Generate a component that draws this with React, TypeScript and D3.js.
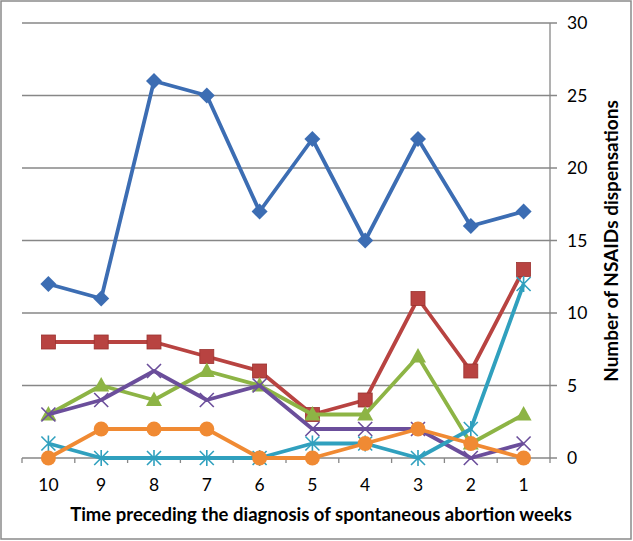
import React from "react";
import * as d3 from "d3";

const weeks = ["10", "9", "8", "7", "6", "5", "4", "3", "2", "1"];
const yTicks = [0, 5, 10, 15, 20, 25, 30];
const seriesBlue = [12, 11, 26, 25, 17, 22, 15, 22, 16, 17];
const seriesRed = [8, 8, 8, 7, 6, 3, 4, 11, 6, 13];
const seriesGreen = [3, 5, 4, 6, 5, 3, 3, 7, 1, 3];
const seriesPurple = [3, 4, 6, 4, 5, 2, 2, 2, 0, 1];
const seriesCyan = [1, 0, 0, 0, 0, 1, 1, 0, 2, 12];
const seriesOrange = [0, 2, 2, 2, 0, 0, 1, 2, 1, 0];
const xTitle = "Time preceding the diagnosis of spontaneous abortion weeks";
const yTitle = "Number of NSAIDs dispensations";

const series = [
  { values: seriesBlue, color: "#3C6DB3", marker: "diamond" },
  { values: seriesRed, color: "#B84341", marker: "square" },
  { values: seriesGreen, color: "#8DB445", marker: "triangle" },
  { values: seriesPurple, color: "#6B4E9B", marker: "x" },
  { values: seriesCyan, color: "#30A0BE", marker: "star" },
  { values: seriesOrange, color: "#F08A33", marker: "circle" },
];

const W = 633, H = 541;
const left = 22, right = 550, top = 23, bottom = 458;
const font = "Lato, 'Open Sans', sans-serif";

function Marker({ type, x, y, color }: { type: string; x: number; y: number; color: string }) {
  const s = 7;
  switch (type) {
    case "diamond":
      return <path d={`M${x},${y - 8}L${x + 8},${y}L${x},${y + 8}L${x - 8},${y}Z`} fill={color} />;
    case "square":
      return <rect x={x - 7} y={y - 7} width={14} height={14} fill={color} stroke="#9b3330" strokeWidth={0.8} />;
    case "triangle":
      return <path d={`M${x},${y - 8.5}L${x + 8},${y + 6}L${x - 8},${y + 6}Z`} fill={color} />;
    case "x":
      return (
        <path d={`M${x - s},${y - s}L${x + s},${y + s}M${x - s},${y + s}L${x + s},${y - s}`} stroke={color} strokeWidth={1.6} />
      );
    case "star":
      return (
        <path
          d={`M${x - s},${y - s}L${x + s},${y + s}M${x - s},${y + s}L${x + s},${y - s}M${x},${y - s - 1}L${x},${y + s + 1}`}
          stroke={color}
          strokeWidth={1.6}
        />
      );
    default:
      return <circle cx={x} cy={y} r={7.5} fill={color} />;
  }
}

export default function App() {
  const x = d3.scaleBand<string>().domain(weeks).range([left, right]);
  const y = d3.scaleLinear().domain([0, 30]).range([bottom, top]);
  const cx = (w: string) => (x(w) as number) + x.bandwidth() / 2;
  const line = d3
    .line<number>()
    .x((_, i) => cx(weeks[i]))
    .y((d) => y(d));
  const boundaries = d3.range(weeks.length + 1).map((i) => left + i * x.step());

  return (
    <svg width={W} height={H} style={{ position: "absolute", left: 0, top: 0, background: "#fff" }}>
      <rect x={1} y={1} width={W - 3} height={H - 3} fill="#fff" stroke="#8a8a8a" strokeWidth={1.5} />
      {yTicks.map((t) => (
        <g key={t}>
          <line x1={left} x2={right + 7} y1={y(t)} y2={y(t)} stroke="#878787" strokeWidth={1.3} />
          <text x={567} y={y(t) + 6} fontFamily={font} fontSize={17.5} fill="#000">
            {t}
          </text>
        </g>
      ))}
      <line x1={right} x2={right} y1={top} y2={bottom} stroke="#878787" strokeWidth={1.3} />
      {boundaries.map((b, i) => (
        <line key={i} x1={b} x2={b} y1={bottom} y2={bottom + 5} stroke="#878787" strokeWidth={1.3} />
      ))}
      {weeks.map((w) => (
        <text key={w} x={cx(w)} y={491} textAnchor="middle" fontFamily={font} fontSize={17.5} fill="#000">
          {w}
        </text>
      ))}
      <text x={321} y={521} textAnchor="middle" fontFamily={font} fontSize={18.5} fontWeight="bold" fill="#000">
        {xTitle}
      </text>
      <text
        transform={`translate(618,241) rotate(-90)`}
        textAnchor="middle"
        fontFamily={font}
        fontSize={19}
        fontWeight="bold"
        fill="#000"
      >
        {yTitle}
      </text>
      {series.map((s, si) => (
        <g key={si}>
          <path d={line(s.values) as string} fill="none" stroke={s.color} strokeWidth={3.8} strokeLinejoin="round" />
          {s.values.map((v, i) => (
            <Marker key={i} type={s.marker} x={cx(weeks[i])} y={y(v)} color={s.color} />
          ))}
        </g>
      ))}
    </svg>
  );
}
